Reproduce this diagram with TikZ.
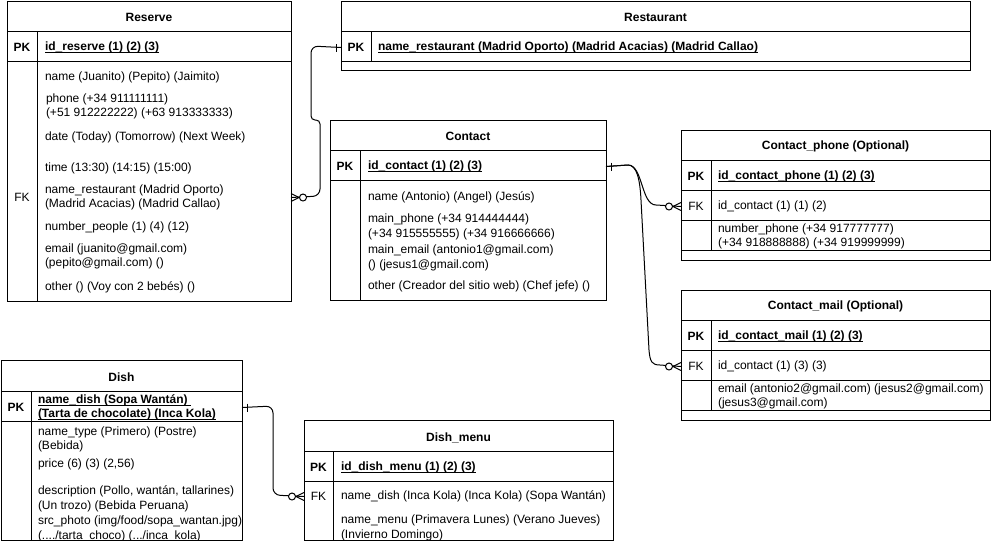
\documentclass[tikz,border=0pt]{standalone}
\usepackage{fontspec}
\setmainfont{Liberation Sans}
\usetikzlibrary{calc}

% primary-key text: bold with a thin underline close to the baseline
\newsavebox{\keybox}
\newcommand{\keyul}[1]{\sbox{\keybox}{#1}\rlap{\rule[-2pt]{\wd\keybox}{0.9pt}}\usebox{\keybox}}
\newcommand{\erfont}{\fontsize{12}{14.4}\selectfont}

\tikzset{
  every node/.style={inner sep=0pt, outer sep=0pt},
  tbl/.style={draw, line width=1pt, anchor=north west},
  txt/.style={yshift=-1.5pt},
  ttl/.style={txt, font=\erfont\bfseries},
  pklbl/.style={txt, font=\erfont\bfseries},
  fklbl/.style={txt, font=\erfont},
  attr/.style={txt, anchor=west, align=left, font=\erfont},
  pkattr/.style={txt, anchor=west, align=left, font=\erfont\bfseries},
  sep/.style={line width=1pt},
  conn/.style={line width=1pt},
  pics/zeromany/.style={code={
    \draw[line width=1pt] (0,-4) -- (8,0) -- (0,4);
    \draw[line width=1pt, fill=white] (12,0) circle[radius=3.5pt];
  }},
  pics/onlyone/.style={code={
    \draw[line width=1pt] (5,-4) -- (5,4);
  }},
}

\begin{document}
\begin{tikzpicture}[x=1pt, y=-1pt]
\fill[white] (0,0) rectangle (991,541);
\useasboundingbox (0,0) rectangle (991,541);

% ---------------- Reserve ----------------
\node[tbl, minimum width=284pt, minimum height=300pt] (reserve) at (7,1) {};
\draw[sep] (7,31) -- (291,31);
\draw[sep] (7,61) -- (291,61);
\draw[sep] (37,31) -- (37,301);
\node[ttl] (resTitle) at (149,16) {Reserve};
\node[pklbl] (resPK) at (22,46) {PK};
\node[pkattr] (resId) at (45,46) {\keyul{id\_reserve (1) (2) (3)}};
\node[fklbl] (resFK) at (22,196) {FK};
\node[attr] (resName) at (45,76) {name (Juanito) (Pepito) (Jaimito)};
\node[attr] (resPhone) at (46,105) {phone (+34 911111111)\\(+51 912222222) (+63 913333333)};
\node[attr] (resDate) at (45,136) {date (Today) (Tomorrow) (Next Week)};
\node[attr] (resTime) at (45,167) {time (13:30) (14:15) (15:00)};
\node[attr] (resRest) at (45,196) {name\_restaurant (Madrid Oporto)\\(Madrid Acacias) (Madrid Callao)};
\node[attr] (resPeople) at (45,226) {number\_people (1) (4) (12)};
\node[attr] (resMail) at (45,255) {email (juanito@gmail.com)\\(pepito@gmail.com) ()};
\node[attr] (resOther) at (45,286) {other () (Voy con 2 bebés) ()};

% ---------------- Restaurant ----------------
\node[tbl, minimum width=629pt, minimum height=69.5pt] (restaurant) at (341,1) {};
\draw[sep] (341,31) -- (970,31);
\draw[sep] (341,61) -- (970,61);
\draw[sep] (371,31) -- (371,61);
\node[ttl] (restTitle) at (655.5,16) {Restaurant};
\node[pklbl] (restPK) at (356,46) {PK};
\node[pkattr] (restId) at (378,46) {\keyul{name\_restaurant (Madrid Oporto) (Madrid Acacias) (Madrid Callao)}};

% ---------------- Contact ----------------
\node[tbl, minimum width=276pt, minimum height=180pt] (contact) at (330,120) {};
\draw[sep] (330,150) -- (606,150);
\draw[sep] (330,180) -- (606,180);
\draw[sep] (360,150) -- (360,300);
\node[ttl] (conTitle) at (468,135) {Contact};
\node[pklbl] (conPK) at (345,165) {PK};
\node[pkattr] (conId) at (368,165) {\keyul{id\_contact (1) (2) (3)}};
\node[attr] (conName) at (368,196) {name (Antonio) (Angel) (Jesús)};
\node[attr] (conPhone) at (368,225.5) {main\_phone (+34 914444444)\\(+34 915555555) (+34 916666666)};
\node[attr] (conMail) at (368,256.5) {main\_email (antonio1@gmail.com)\\() (jesus1@gmail.com)};
\node[attr] (conOther) at (368,285) {other (Creador del sitio web) (Chef jefe) ()};

% ---------------- Contact_phone ----------------
\node[tbl, minimum width=309pt, minimum height=130pt] (cphone) at (681,130) {};
\draw[sep] (681,160) -- (990,160);
\draw[sep] (681,190) -- (990,190);
\draw[sep] (681,220) -- (990,220);
\draw[sep] (681,250) -- (990,250);
\draw[sep] (711,160) -- (711,250);
\node[ttl] (cphTitle) at (835.5,145) {Contact\_phone (Optional)};
\node[pklbl] (cphPK) at (696,175) {PK};
\node[pkattr] (cphId) at (718,175) {\keyul{id\_contact\_phone (1) (2) (3)}};
\node[fklbl] (cphFK) at (696,205) {FK};
\node[attr] (cphContact) at (718,205) {id\_contact (1) (1) (2)};
\node[attr] (cphNumber) at (718,235) {number\_phone (+34 917777777)\\(+34 918888888) (+34 919999999)};

% ---------------- Contact_mail ----------------
\node[tbl, minimum width=309pt, minimum height=130pt] (cmail) at (681,290) {};
\draw[sep] (681,320) -- (990,320);
\draw[sep] (681,350) -- (990,350);
\draw[sep] (681,380) -- (990,380);
\draw[sep] (681,410) -- (990,410);
\draw[sep] (711,320) -- (711,410);
\node[ttl] (cmTitle) at (835.5,305) {Contact\_mail (Optional)};
\node[pklbl] (cmPK) at (696,335) {PK};
\node[pkattr] (cmId) at (718,335) {\keyul{id\_contact\_mail (1) (2) (3)}};
\node[fklbl] (cmFK) at (696,365) {FK};
\node[attr] (cmContact) at (718,365) {id\_contact (1) (3) (3)};
\node[attr] (cmEmail) at (718,395) {email (antonio2@gmail.com) (jesus2@gmail.com)\\(jesus3@gmail.com)};

% ---------------- Dish ----------------
\node[tbl, minimum width=241pt, minimum height=180pt] (dish) at (1,360.5) {};
\draw[sep] (1,391) -- (242,391);
\draw[sep] (1,421) -- (242,421);
\draw[sep] (31,391) -- (31,540.5);
\node[ttl] (dishTitle) at (121.5,375.5) {Dish};
\node[pklbl] (dishPK) at (16,406) {PK};
\node[pkattr] (dishName) at (38,406) {\keyul{name\_dish (Sopa Wantán) }\\\keyul{(Tarta de chocolate) (Inca Kola)}};
\node[attr] (dishType) at (38,438) {name\_type (Primero) (Postre)\\(Bebida)};
\node[attr] (dishPrice) at (38,462.5) {price (6) (3) (2,56)};
\node[attr] (dishDesc) at (38,497.5) {description (Pollo, wantán, tallarines)\\(Un trozo) (Bebida Peruana)};
\node[attr] (dishPhoto) at (38,527.5) {src\_photo (img/food/sopa\_wantan.jpg)\\(..../tarta\_choco) (.../inca\_kola)};

% ---------------- Dish_menu ----------------
\node[tbl, minimum width=309pt, minimum height=120pt] (dmenu) at (304,420.5) {};
\draw[sep] (304,451) -- (613,451);
\draw[sep] (304,481) -- (613,481);
\draw[sep] (333,451) -- (333,540.5);
\node[ttl] (dmTitle) at (458.5,436) {Dish\_menu};
\node[pklbl] (dmPK) at (318.5,466) {PK};
\node[pkattr] (dmId) at (341,466) {\keyul{id\_dish\_menu (1) (2) (3)}};
\node[fklbl] (dmFK) at (318.5,495) {FK};
\node[attr] (dmDish) at (341,495) {name\_dish (Inca Kola) (Inca Kola) (Sopa Wantán)};
\node[attr] (dmMenu) at (341,526.5) {name\_menu (Primavera Lunes) (Verano Jueves)\\(Invierno Domingo)};

% ---------------- relations ----------------
% Reserve.name_restaurant -> Restaurant.name_restaurant
\coordinate (rA) at (320,196);
\coordinate (rB) at (320,120);
\coordinate (rC) at (311,120);
\coordinate (rD) at (311,46);
\draw[conn] (reserve.east |- resFK) [rounded corners=7pt] -- (rA)
  [rounded corners=4pt] -- (rB) -- (rC) [rounded corners=7pt] -- (rD)
  -- (restaurant.west |- restPK);
\pic at (reserve.east |- resFK) {zeromany};
\pic[rotate=180] at (restaurant.west |- restPK) {onlyone};

% Contact.id_contact -> Contact_phone / Contact_mail
\coordinate (cA) at (628,165);
\draw[conn] (contact.east |- conPK) -- (cA)
  .. controls (643,165) and (641,205) .. (656,205) -- (cphone.west |- cphFK);
\draw[conn] (contact.east |- conPK) -- (cA)
  .. controls (637,165) and (640,180) .. (641,200) -- (649,350)
  .. controls (650,362) and (652,365) .. (660,365) -- (cmail.west |- cmFK);
\pic at (contact.east |- conPK) {onlyone};
\pic[rotate=180] at (cphone.west |- cphFK) {zeromany};
\pic[rotate=180] at (cmail.west |- cmFK) {zeromany};

% Dish.name_dish -> Dish_menu.name_dish
\coordinate (dA) at (273,406);
\coordinate (dB) at (273,495);
\draw[conn, rounded corners=7pt] (dish.east |- dishPK) -- (dA) -- (dB) -- (dmenu.west |- dmFK);
\pic at (dish.east |- dishPK) {onlyone};
\pic[rotate=180] at (dmenu.west |- dmFK) {zeromany};
\end{tikzpicture}
\end{document}
